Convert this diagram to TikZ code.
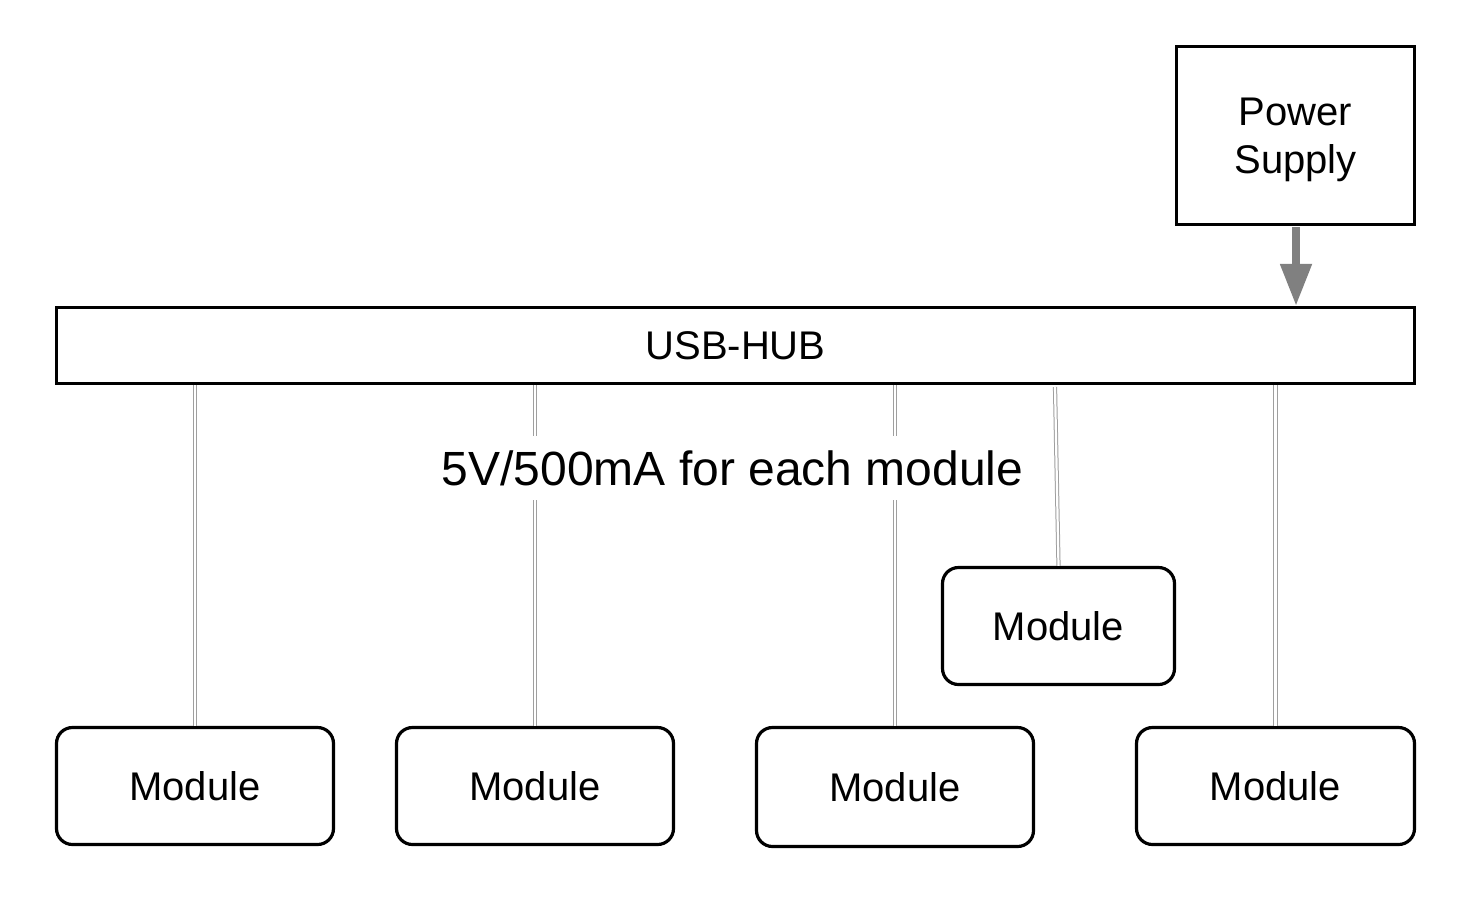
\documentclass[tikz,border=0pt]{standalone}
\usepackage{fontspec}
\setmainfont{Liberation Sans}
\usetikzlibrary{arrows.meta}
\begin{document}
\begin{tikzpicture}[x=1pt,y=-1pt,
  box/.style={draw=black,line width=3.2pt,fill=white,inner sep=0pt,font=\fontsize{40}{48}\selectfont,align=center},
  modbox/.style={box,rounded corners=16pt,minimum height=117pt},
  dline/.style={draw=gray!75,line width=1pt,double=white,double distance=2.2pt},
  power/.style={draw=black!50,line width=8pt,-{Triangle[width=30pt,length=42pt]}, shorten <=1pt}
]
\useasboundingbox (0,0) rectangle (1480,900);
\node[box,minimum width=238pt,minimum height=178pt,text depth=0pt] (ps) at (1295.5,135.5) {Power\\Supply};
\node[box,minimum width=1358pt,minimum height=76pt] (hub) at (735.5,345.5) {USB-HUB};
\node[modbox,minimum width=277pt] (m1) at (195,786) {Module};
\node[modbox,minimum width=277pt] (m2) at (535,786) {Module};
\node[modbox,minimum width=277pt,minimum height=119pt] (m3) at (895,787) {Module};
\node[modbox,minimum width=232pt] (m4) at (1058.5,626) {Module};
\node[modbox,minimum width=278pt] (m5) at (1275.5,786) {Module};
\coordinate (t4) at (1055,387);
\draw[dline] (hub.south -| m1.north) -- (m1.north);
\draw[dline] (hub.south -| m2.north) -- (m2.north);
\draw[dline] (hub.south -| m3.north) -- (m3.north);
\draw[dline] (t4) -- (m4.north);
\draw[dline] (hub.south -| m5.north) -- (m5.north);
\node[fill=white,inner xsep=4pt,inner ysep=14pt,font=\fontsize{48}{56}\selectfont] (lbl) at (732.5,468) {5V/500mA for each module};
\draw[power] (ps.south -| 1296,0) -- (hub.north -| 1296,0);
\end{tikzpicture}
\end{document}
